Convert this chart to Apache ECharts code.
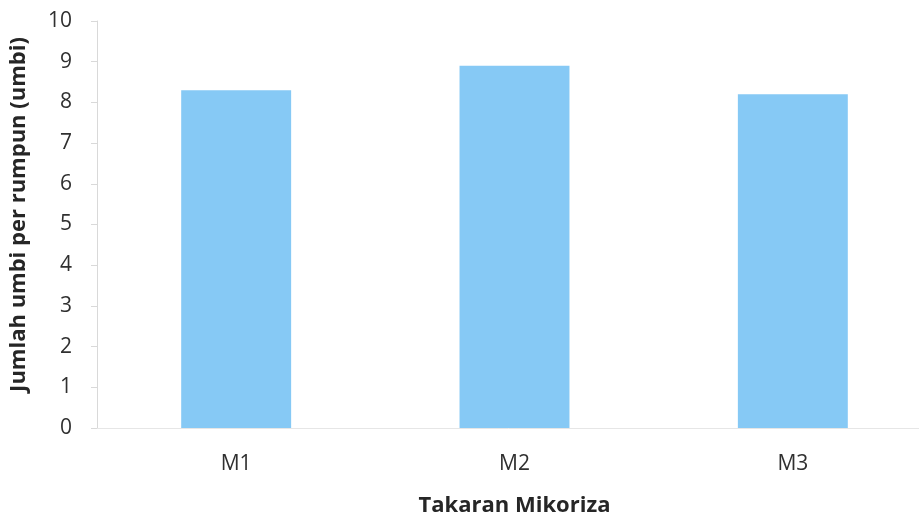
<!DOCTYPE html>
<html>
<head>
<meta charset="utf-8">
<script src="https://cdn.jsdelivr.net/npm/echarts@6/dist/echarts.min.js"></script>
<style>
html,body{margin:0;padding:0;background:#fff;}
#chart{width:919px;height:521px;}
</style>
</head>
<body>
<div id="chart"></div>
<script>
// Number of bulbs per clump for each mycorrhiza dose
var categories = ['M1', 'M2', 'M3'];
var bulbCounts = [8.3, 8.9, 8.2];
var yTicks = { min: 0, max: 10, interval: 1 };
var xTitle = 'Takaran Mikoriza';
var yTitle = 'Jumlah umbi per rumpun (umbi)';

var font = '"Open Sans", Lato, "Liberation Sans", sans-serif';
var chart = echarts.init(document.getElementById('chart'));
chart.setOption({
  animation: false,
  backgroundColor: '#ffffff',
  grid: { left: 97, right: -13, top: 21, bottom: 93, containLabel: false, outerBoundsMode: 'none' },
  xAxis: {
    type: 'category',
    data: categories,
    name: xTitle,
    nameLocation: 'middle',
    nameGap: 67,
    nameTextStyle: { fontFamily: font, fontSize: 22, fontWeight: 'bold', color: '#262626' },
    axisLine: { show: true, lineStyle: { color: '#e6e6e6', width: 1 } },
    axisTick: { show: false },
    axisLabel: { fontFamily: font, fontSize: 21, color: '#303030', margin: 26 }
  },
  yAxis: {
    type: 'value',
    min: yTicks.min,
    max: yTicks.max,
    interval: yTicks.interval,
    name: yTitle,
    nameLocation: 'middle',
    nameGap: 67,
    nameTextStyle: { fontFamily: font, fontSize: 22, fontWeight: 'bold', color: '#262626', padding: [0, 0, 0, 20] },
    axisLine: { show: true, lineStyle: { color: '#d9d9d9', width: 1 } },
    axisTick: { show: true, inside: false, length: 6, lineStyle: { color: '#d9d9d9' } },
    axisLabel: { fontFamily: font, fontSize: 21, color: '#303030', margin: 25 },
    splitLine: { show: false }
  },
  series: [{
    type: 'bar',
    data: bulbCounts,
    barWidth: '39.5%',
    itemStyle: { color: '#86C9F5' }
  }]
});
</script>
</body>
</html>
